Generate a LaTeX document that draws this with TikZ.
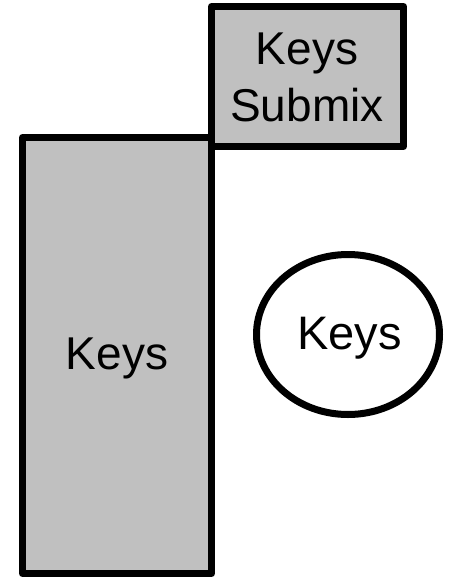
\documentclass[tikz,border=0pt]{standalone}
\usepackage{fontspec}
\setmainfont{Liberation Sans}
\usetikzlibrary{shapes.geometric}
\definecolor{boxgray}{HTML}{C0C0C0}
\begin{document}
\begin{tikzpicture}[x=1pt,y=-1pt,
  shapeline/.style={draw=black,line width=7pt,line join=round},
  lbl/.style={font=\fontsize{46}{57}\selectfont,align=center,inner sep=0pt}]
\useasboundingbox (0,0) rectangle (450,581);
\draw[shapeline,fill=boxgray] (22.5,137.5) rectangle (211.5,573.5);
\draw[shapeline,fill=boxgray] (211.5,6.5) rectangle (403.5,146.5);
\draw[shapeline,fill=white] (348,334.5) ellipse [x radius=91.5,y radius=80];
\node[lbl] (big) at (117,358) {Keys};
\node[lbl] (sub) at (307,77) {Keys\\Submix};
\node[lbl,font=\fontsize{47}{57}\selectfont] (ell) at (349.5,338) {Keys};
\end{tikzpicture}
\end{document}
